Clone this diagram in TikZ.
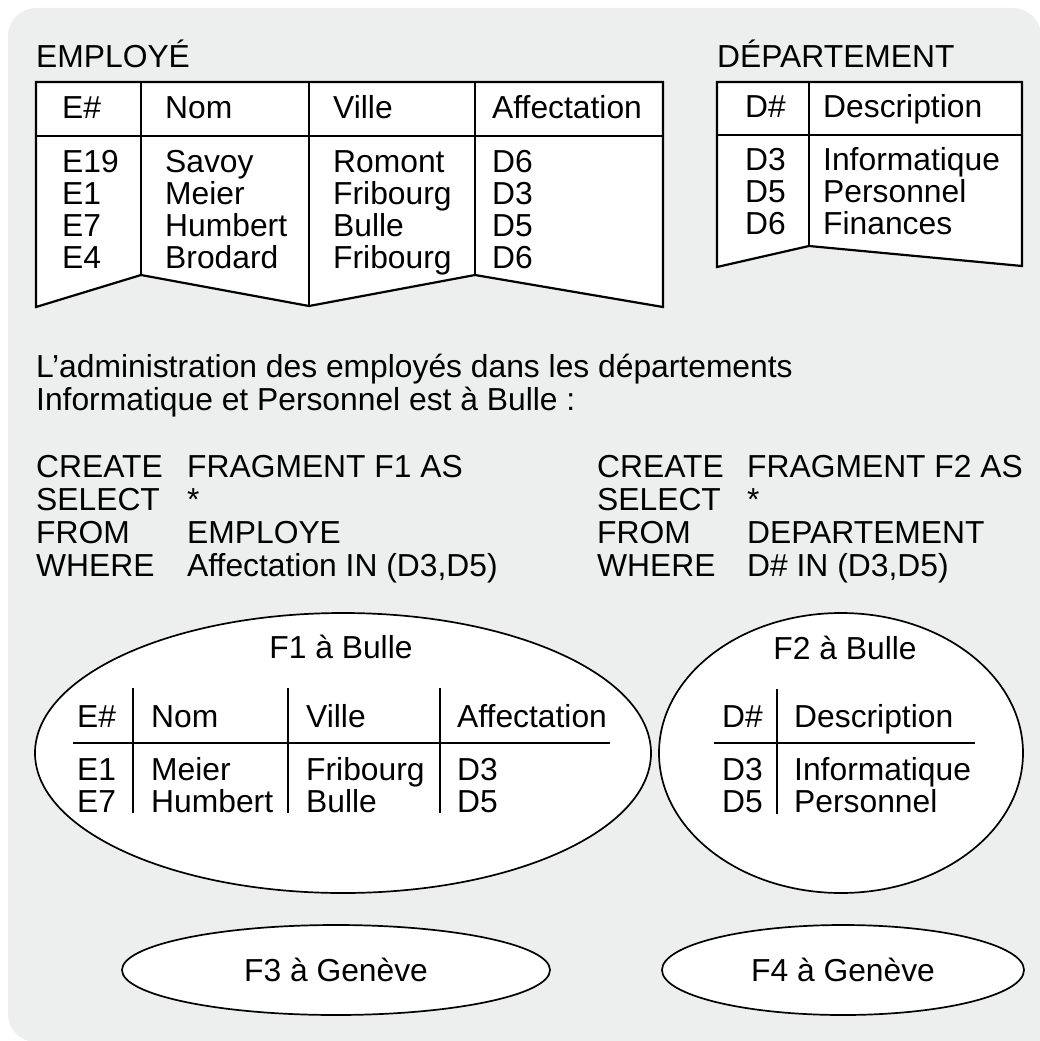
\documentclass[tikz,border=0pt]{standalone}
\usepackage{fontspec}
\setmainfont{Liberation Sans}
\usetikzlibrary{shapes.geometric}
\definecolor{bggray}{RGB}{237,238,238}

\begin{document}
\begin{tikzpicture}[x=1pt, y=-1pt,
  every node/.style={font=\fontsize{31.8}{32}\selectfont, inner sep=0pt},
  txt/.style={anchor=base west},
  tbl/.style={draw, fill=white, line width=2.2pt},
  tblline/.style={draw, line width=2.2pt},
  rule/.style={draw, line width=2pt},
  frag/.style={ellipse, draw, fill=white, line width=1.7pt}]
  \useasboundingbox (0,0) rectangle (1039,1041);
  \fill[bggray, rounded corners=28pt] (8,8) rectangle (1041,1042);
  \fill[bggray] (990,990) rectangle (1041,1042);

  % EMPLOYE
  \node[txt] (emp-title) at (36,67) {EMPLOYÉ};
  \draw[tbl] (36,82) -- (663,82) -- (663,307) -- (475,275) -- (309,306) -- (141,275) -- (36,307) -- cycle;
  \draw[tblline] (36,136) -- (663,136);
  \foreach \x/\y in {141/275,309/306,475/275}
    \draw[tblline] (\x,82) -- (\x,\y);
  \foreach \x/\t in {62/E\#,165/Nom,333/Ville,492/Affectation}
    \node[txt] (emp-h\x) at (\x,118) {\t};
  \foreach \a/\b/\c/\d [count=\i from 0] in {E19/Savoy/Romont/D6,E1/Meier/Fribourg/D3,E7/Humbert/Bulle/D5,E4/Brodard/Fribourg/D6} {
    \node[txt] (emp-\i a) at (62,172+32*\i) {\a};
    \node[txt] (emp-\i b) at (165,172+32*\i) {\b};
    \node[txt] (emp-\i c) at (333,172+32*\i) {\c};
    \node[txt] (emp-\i d) at (492,172+32*\i) {\d};
  }

  % DEPARTEMENT
  \node[txt] (dep-title) at (717,67) {DÉPARTEMENT};
  \draw[tbl] (717,82) -- (1022,82) -- (1022,266) -- (809,246) -- (717,267) -- cycle;
  \draw[tblline] (717,135) -- (1022,135);
  \draw[tblline] (809,82) -- (809,246);
  \node[txt] (dep-ha) at (745,117) {D\#};
  \node[txt] (dep-hb) at (823,117) {Description};
  \foreach \a/\b [count=\i from 0] in {D3/Informatique,D5/Personnel,D6/Finances} {
    \node[txt] (dep-\i a) at (745,170+32*\i) {\a};
    \node[txt] (dep-\i b) at (823,170+32*\i) {\b};
  }

  \node[txt] (intro1) at (36,377) {L’administration des employés dans les départements};
  \node[txt] (intro2) at (36,410) {Informatique et Personnel est à Bulle :};

  % SQL
  \foreach \k/\v [count=\i from 0] in {CREATE/FRAGMENT F1 AS,SELECT/*,FROM/EMPLOYE,WHERE/{Affectation IN (D3,D5)}} {
    \node[txt] (sqla-\i k) at (36,477+33*\i) {\k};
    \node[txt] (sqla-\i v) at (187,477+33*\i) {\v};
  }
  \foreach \k/\v [count=\i from 0] in {CREATE/FRAGMENT F2 AS,SELECT/*,FROM/DEPARTEMENT,WHERE/{D\# IN (D3,D5)}} {
    \node[txt] (sqlb-\i k) at (597,477+33*\i) {\k};
    \node[txt] (sqlb-\i v) at (747,477+33*\i) {\v};
  }

  % fragments
  \node[frag, minimum width=616pt, minimum height=280pt] (f1) at (343,753) {};
  \node[frag, minimum width=364pt, minimum height=280pt] (f2) at (841,753) {};
  \node[frag, minimum width=428pt, minimum height=90pt] (f3) at (336,970) {F3 à Genève};
  \node[frag, minimum width=362pt, minimum height=90pt] (f4) at (843,970) {F4 à Genève};

  \node[anchor=base] (f1-label) at (341,658) {F1 à Bulle};
  \draw[rule] (73,743) -- (610,743);
  \foreach \x in {133,288,440}
    \draw[rule] (\x,688) -- (\x,813);
  \foreach \x/\t in {77/E\#,151/Nom,306/Ville,457/Affectation}
    \node[txt] (f1-h\x) at (\x,727) {\t};
  \foreach \a/\b/\c/\d [count=\i from 0] in {E1/Meier/Fribourg/D3,E7/Humbert/Bulle/D5} {
    \node[txt] (f1-\i a) at (77,780+32*\i) {\a};
    \node[txt] (f1-\i b) at (151,780+32*\i) {\b};
    \node[txt] (f1-\i c) at (306,780+32*\i) {\c};
    \node[txt] (f1-\i d) at (457,780+32*\i) {\d};
  }

  \node[anchor=base] (f2-label) at (845,659) {F2 à Bulle};
  \draw[rule] (714,743) -- (975,743);
  \draw[rule] (777,689) -- (777,814);
  \node[txt] (f2-ha) at (722,727) {D\#};
  \node[txt] (f2-hb) at (794,727) {Description};
  \foreach \a/\b [count=\i from 0] in {D3/Informatique,D5/Personnel} {
    \node[txt] (f2-\i a) at (722,780+32*\i) {\a};
    \node[txt] (f2-\i b) at (794,780+32*\i) {\b};
  }
\end{tikzpicture}
\end{document}
